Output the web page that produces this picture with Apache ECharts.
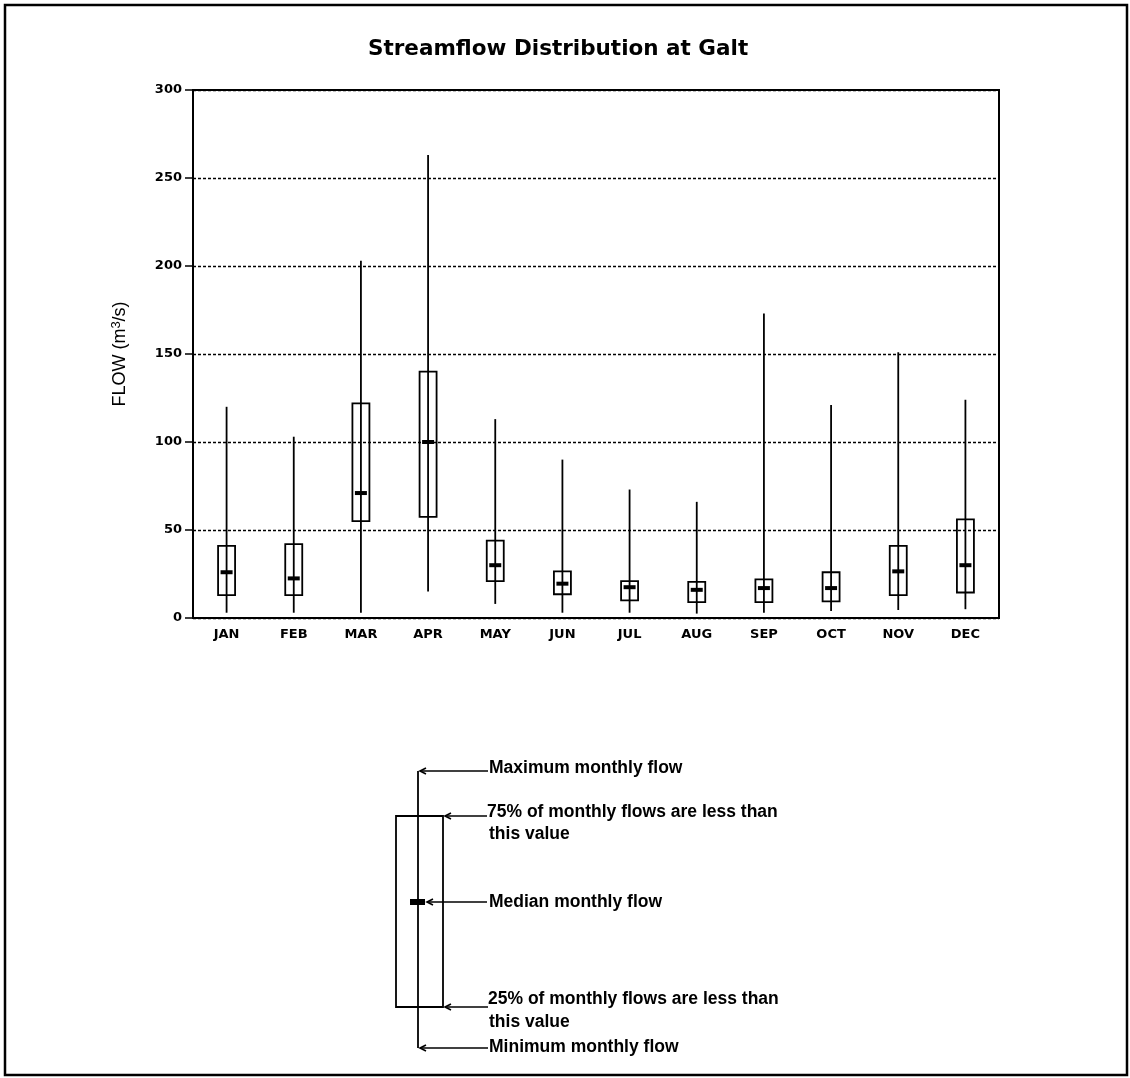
<!DOCTYPE html>
<html>
<head>
<meta charset="utf-8">
<script src="https://cdn.jsdelivr.net/npm/echarts@6/dist/echarts.min.js"></script>
<style>html,body{margin:0;padding:0;background:#fff;}#c{width:1130px;height:1078px;}</style>
</head>
<body>
<div id="c"></div>
<script>
// ---- data ----
var months = ['JAN','FEB','MAR','APR','MAY','JUN','JUL','AUG','SEP','OCT','NOV','DEC'];
var minFlow = [3, 3, 3, 15, 8, 3, 3, 2.5, 3, 4, 4.5, 5];
var q1Flow = [13, 13, 55, 57.5, 21, 13.5, 10, 9, 9, 9.5, 13, 14.5];
var medianFlow = [26, 22.5, 71, 100, 30, 19.5, 17.5, 16, 17, 17, 26.5, 30];
var q3Flow = [41, 42, 122, 140, 44, 26.5, 21, 20.5, 22, 26, 41, 56];
var maxFlow = [120, 103, 203, 263, 113, 90, 73, 66, 173, 121, 151, 124];
var yTicks = [0, 50, 100, 150, 200, 250, 300];

var boxData = months.map(function (m, i) {
  return [i, minFlow[i], q1Flow[i], medianFlow[i], q3Flow[i], maxFlow[i]];
});

var chart = echarts.init(document.getElementById('c'), null, {renderer: 'canvas'});

function renderBox(params, api) {
  var x = api.value(0);
  var pMin = api.coord([x, api.value(1)]);
  var pQ1 = api.coord([x, api.value(2)]);
  var pMed = api.coord([x, api.value(3)]);
  var pQ3 = api.coord([x, api.value(4)]);
  var pMax = api.coord([x, api.value(5)]);
  var cx = pMin[0];
  var bw = 17, mw = 12, mh = 4;
  return {
    type: 'group',
    children: [
      {type: 'line', shape: {x1: cx, y1: pMin[1], x2: cx, y2: pMax[1]},
       style: {stroke: '#000', lineWidth: 1.8}},
      {type: 'rect', shape: {x: cx - bw / 2, y: pQ3[1], width: bw, height: pQ1[1] - pQ3[1]},
       style: {fill: 'none', stroke: '#000', lineWidth: 1.8}},
      {type: 'rect', shape: {x: cx - mw / 2, y: pMed[1] - mh / 2, width: mw, height: mh},
       style: {fill: '#000'}}
    ]
  };
}

var legFont = {fontFamily: 'Liberation Sans', fontWeight: 'bold', fontSize: 17.5, fill: '#000'};
function seg(x1, y1, x2, y2, w) {
  return {type: 'line', shape: {x1: x1, y1: y1, x2: x2, y2: y2}, style: {stroke: '#000', lineWidth: w || 1.8}};
}
function arrow(xFrom, xTip, y) {
  return [
    seg(xFrom, y, xTip, y, 1.6),
    {type: 'polyline', shape: {points: [[xTip + 6, y - 3], [xTip, y], [xTip + 6, y + 3]]}, style: {stroke: '#000', lineWidth: 1.6, fill: 'none'}}
  ];
}

var graphics = [
  {type: 'rect', shape: {x: 5, y: 5, width: 1122, height: 1070}, style: {fill: 'none', stroke: '#000', lineWidth: 2.5}},
  seg(418, 771, 418, 1048, 1.8),
  {type: 'rect', shape: {x: 396, y: 816, width: 47, height: 191}, style: {fill: 'none', stroke: '#000', lineWidth: 1.8}},
  {type: 'rect', shape: {x: 410, y: 899, width: 15, height: 6}, style: {fill: '#000'}}
];
graphics = graphics.concat(arrow(488, 420, 771), arrow(487, 445, 816), arrow(487, 427, 902), arrow(488, 445, 1007), arrow(488, 420, 1048));

function textEl(t, x, y) {
  return {type: 'text', x: x, y: y, style: Object.assign({text: t, textVerticalAlign: 'middle', verticalAlign: 'middle'}, legFont)};
}
graphics.push(
  textEl('Maximum monthly flow', 489, 768),
  textEl('75% of monthly flows are less than', 487, 812),
  textEl('this value', 489, 834),
  textEl('Median monthly flow', 489, 902),
  textEl('25% of monthly flows are less than', 488, 999),
  textEl('this value', 489, 1022),
  textEl('Minimum monthly flow', 489, 1047)
);

var option = {
  backgroundColor: '#fff',
  animation: false,
  title: {
    text: 'Streamflow Distribution at Galt',
    left: 363,
    top: 33,
    textStyle: {fontFamily: 'DejaVu Sans', fontWeight: 'bold', fontSize: 21.5, color: '#000'}
  },
  grid: {left: 193, right: 131, top: 90, bottom: 460, show: true, borderColor: '#000', borderWidth: 2, backgroundColor: 'transparent'},
  xAxis: {
    type: 'category',
    data: months,
    boundaryGap: true,
    axisLine: {lineStyle: {color: '#000', width: 2}},
    axisTick: {show: false},
    axisLabel: {color: '#000', fontFamily: 'DejaVu Sans', fontWeight: 'bold', fontSize: 13, margin: 10},
    splitLine: {show: false}
  },
  yAxis: {
    type: 'value',
    min: yTicks[0],
    max: yTicks[yTicks.length - 1],
    interval: 50,
    name: 'FLOW (m{sup|3}/s)',
    nameLocation: 'middle',
    nameGap: 62,
    nameTextStyle: {fontFamily: 'Liberation Sans', fontSize: 18, color: '#000',
      rich: {sup: {fontFamily: 'Liberation Sans', fontSize: 13, color: '#000', verticalAlign: 'top', padding: [0, 0, 8, 0]}}},
    axisLine: {show: true, lineStyle: {color: '#000', width: 2}},
    axisTick: {show: true, length: 8, lineStyle: {color: '#000', width: 1.5}},
    axisLabel: {color: '#000', fontFamily: 'DejaVu Sans', fontWeight: 'bold', fontSize: 13, margin: 11},
    splitLine: {show: true, lineStyle: {color: '#000', type: [3, 2], width: 1.4}}
  },
  series: [{
    type: 'custom',
    renderItem: renderBox,
    data: boxData,
    encode: {x: 0, y: [1, 2, 3, 4, 5]},
    clip: false
  }],
  graphic: graphics
};
chart.setOption(option);
</script>
</body>
</html>
